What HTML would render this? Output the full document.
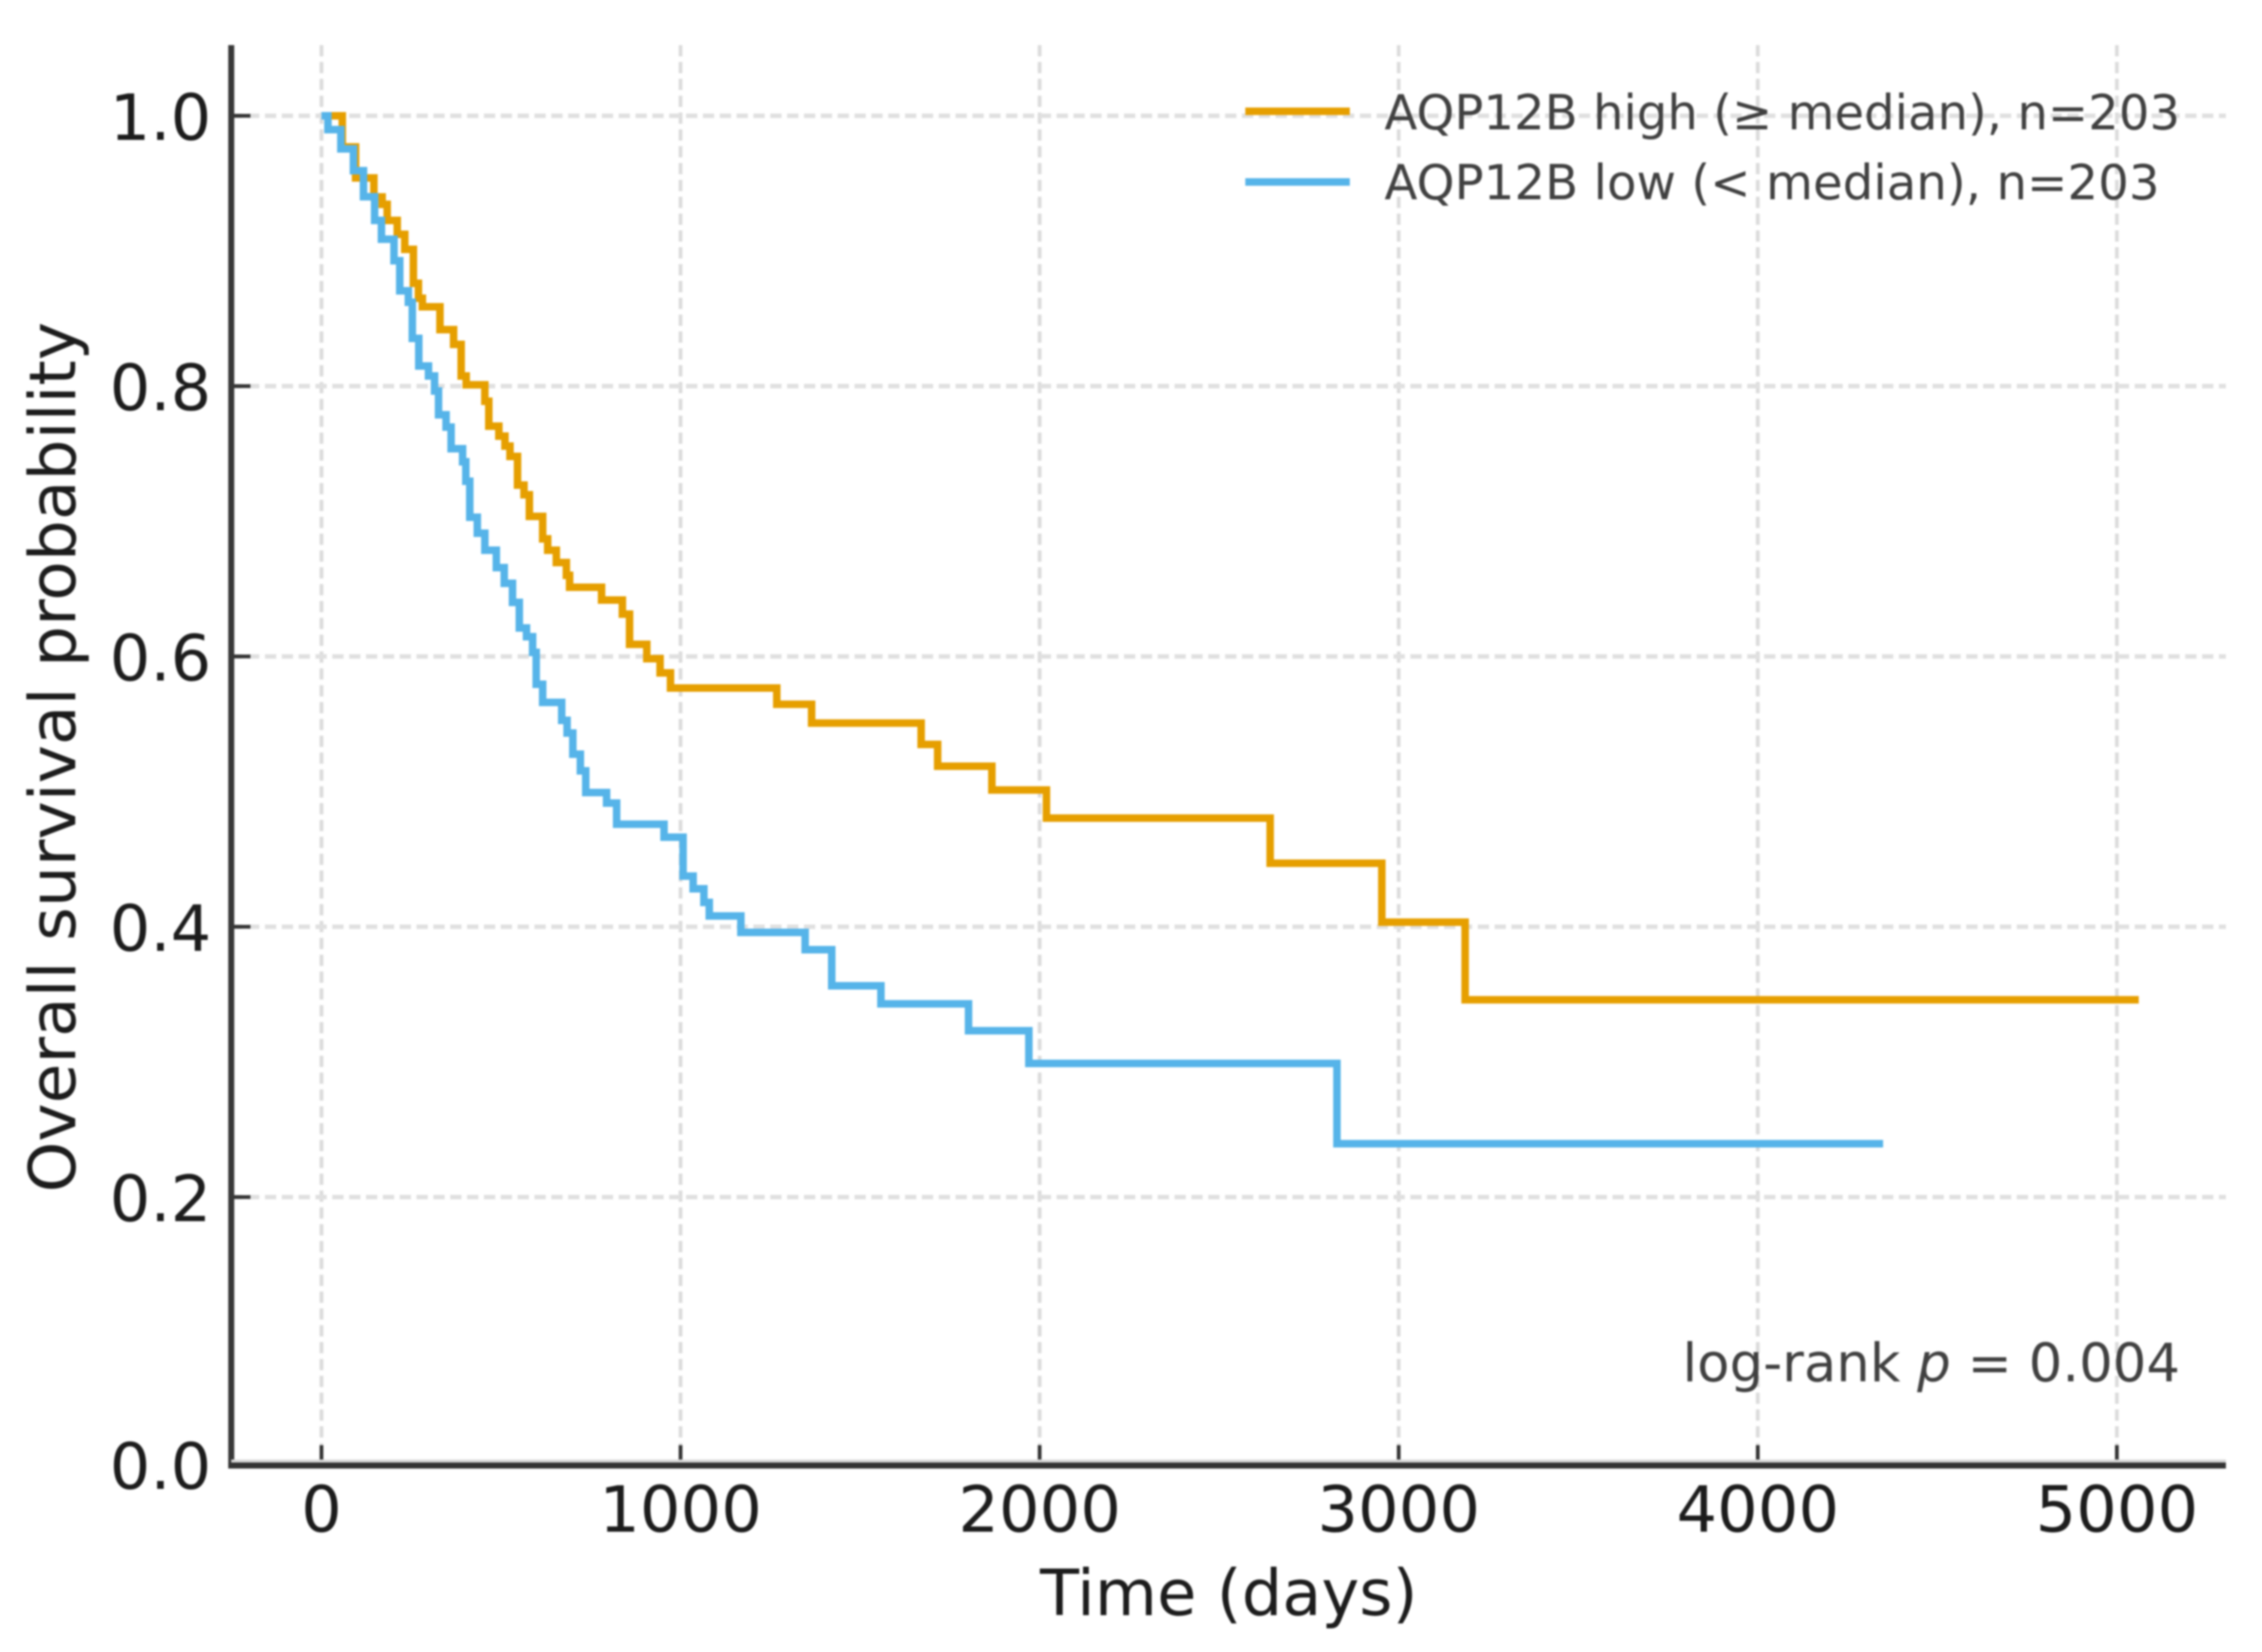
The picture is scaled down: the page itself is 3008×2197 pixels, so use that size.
<!DOCTYPE html>
<html lang="en">
<head>
<meta charset="utf-8">
<title>Overall survival by AQP12B expression</title>
<style>
html,body{margin:0;padding:0;background:#fff;width:3008px;height:2197px;overflow:hidden}
svg{display:block;filter:blur(1.3px)}
text{font-family:"DejaVu Sans","Liberation Sans",sans-serif;fill:#1c1c1c}
</style>
</head>
<body>
<svg id="chart" xmlns="http://www.w3.org/2000/svg" width="3008" height="2197" viewBox="0 0 3008 2197">
  <rect x="0" y="0" width="3008" height="2197" fill="#fff"/>
  <g id="grid"></g>
  <g id="series"></g>
  <g id="axes"></g>
  <text x="1634" y="2148" font-size="85" text-anchor="middle">Time (days)</text>
  <text transform="translate(100,1007) rotate(-90)" font-size="86" text-anchor="middle">Overall survival probability</text>
  <g>
    <line x1="1656" x2="1795" y1="148" y2="148" stroke="#E69F00" stroke-width="10"/>
    <text x="1841" y="172" font-size="64" style="fill:#404040">AQP12B high (≥ median), n=203</text>
    <line x1="1656" x2="1795" y1="242" y2="242" stroke="#56B4E9" stroke-width="10"/>
    <text x="1841" y="265" font-size="64.2" style="fill:#404040">AQP12B low (&lt; median), n=203</text>
  </g>
  <text x="2899" y="1837" font-size="70.3" text-anchor="end" style="fill:#404040">log-rank <tspan font-style="italic">p</tspan> = 0.004</text>
</svg>
<script>
const xTicks = [0, 1000, 2000, 3000, 4000, 5000];
const xTickLabels = ["0", "1000", "2000", "3000", "4000", "5000"];
const yTicks = [0, 0.2, 0.4, 0.6, 0.8, 1.0];
const yTickLabels = ["0.0", "0.2", "0.4", "0.6", "0.8", "1.0"];

const highTimes = [0,58,95,146,169,183,211,232,256,270,281,330,368,389,403,455,466,494,511,525,546,564,579,616,630,654,682,691,780,838,858,906,943,972,1268,1365,1670,1716,1867,2019,2642,2953,3185,5061];
const highSurvival = [1,.977,.954,.940,.9345,.9226,.9123,.9012,.8761,.865,.8587,.8418,.8309,.8075,.801,.7888,.7704,.763,.7556,.748,.7268,.7196,.7036,.687,.6786,.6695,.66,.6512,.6417,.6313,.609,.5983,.5878,.5766,.5646,.5507,.5349,.5188,.5012,.4804,.447,.4034,.346,.346];

const lowTimes = [0,18,54,89,117,148,167,202,218,242,253,271,298,315,326,347,361,393,402,413,434,455,487,509,532,551,571,588,598,616,669,684,700,721,736,794,822,954,1007,1035,1065,1080,1168,1347,1421,1558,1802,1970,2828,4349];
const lowSurvival = [1,.9898,.9755,.9594,.9401,.9226,.9087,.8928,.8705,.862,.8353,.8149,.8075,.7964,.7788,.7697,.7537,.744,.7296,.703,.6912,.6786,.6657,.6541,.64,.6211,.6146,.603,.5794,.566,.5527,.5433,.5277,.5154,.4993,.4915,.4759,.4663,.4375,.4281,.418,.408,.3958,.383,.3563,.343,.3231,.2989,.2395,.2395];

const SVG_NS = "http://www.w3.org/2000/svg";
const plotLeft = 307.5, plotRight = 2960, plotTop = 60, plotBottom = 1949;

function xScale(t) { return 427.5 + 0.4775 * t; }
function yScale(v) { return 1951.5 - 1797.5 * v; }

function lineEl(parent, x1, y1, x2, y2, stroke, width, dash) {
  const el = document.createElementNS(SVG_NS, "line");
  el.setAttribute("x1", x1);
  el.setAttribute("y1", y1);
  el.setAttribute("x2", x2);
  el.setAttribute("y2", y2);
  el.setAttribute("stroke", stroke);
  el.setAttribute("stroke-width", width);
  if (dash) el.setAttribute("stroke-dasharray", dash);
  parent.appendChild(el);
  return el;
}

function textEl(parent, x, y, str, anchor) {
  const el = document.createElementNS(SVG_NS, "text");
  el.setAttribute("x", x);
  el.setAttribute("y", y);
  el.setAttribute("font-size", "85");
  el.setAttribute("text-anchor", anchor);
  el.textContent = str;
  parent.appendChild(el);
  return el;
}

function stepPath(times, values) {
  let d = "M" + xScale(times[0]) + " " + yScale(values[0]);
  for (let i = 1; i < times.length; i++) {
    d += "H" + xScale(times[i]) + "V" + yScale(values[i]);
  }
  return d;
}

const gridGroup = document.getElementById("grid");
const axesGroup = document.getElementById("axes");
const seriesGroup = document.getElementById("series");

xTicks.forEach(function (t, i) {
  const px = xScale(t);
  const g = lineEl(gridGroup, px, plotTop, px, plotBottom, "#dcdcdc", 5, "15 7.4");
  
  
  const tick = lineEl(axesGroup, px, 1922, px, 1948, "#333", 5);
  
  
  const label = textEl(axesGroup, px, 2037, xTickLabels[i], "middle");
  
  
});

yTicks.forEach(function (v, i) {
  const py = yScale(v);
  if (v > 0) {
    const g = lineEl(gridGroup, plotLeft, py, plotRight, py, "#e0e0e0", 6, "15 7.4");
    
    
    const tick = lineEl(axesGroup, 310, py, 333, py, "#333", 5);
    
    
  }
  const label = textEl(axesGroup, 281, Math.min(py, 1948) + 32, yTickLabels[i], "end");
  
  
});

const highCurve = document.createElementNS(SVG_NS, "path");
highCurve.setAttribute("d", stepPath(highTimes, highSurvival));
highCurve.setAttribute("fill", "none");
highCurve.setAttribute("stroke", "#E69F00");
highCurve.setAttribute("stroke-width", "10");


seriesGroup.appendChild(highCurve);

const lowCurve = document.createElementNS(SVG_NS, "path");
lowCurve.setAttribute("d", stepPath(lowTimes, lowSurvival));
lowCurve.setAttribute("fill", "none");
lowCurve.setAttribute("stroke", "#56B4E9");
lowCurve.setAttribute("stroke-width", "10");


seriesGroup.appendChild(lowCurve);

const leftSpine = lineEl(axesGroup, plotLeft, plotTop, plotLeft, 1953, "#383838", 8);



const bottomHalo = lineEl(axesGroup, plotLeft, 1943, plotRight, 1943, "#d8d8d8", 4);



const bottomSpine = lineEl(axesGroup, 303.5, 1949, plotRight, 1949, "#333", 8);


</script>
</body>
</html>
